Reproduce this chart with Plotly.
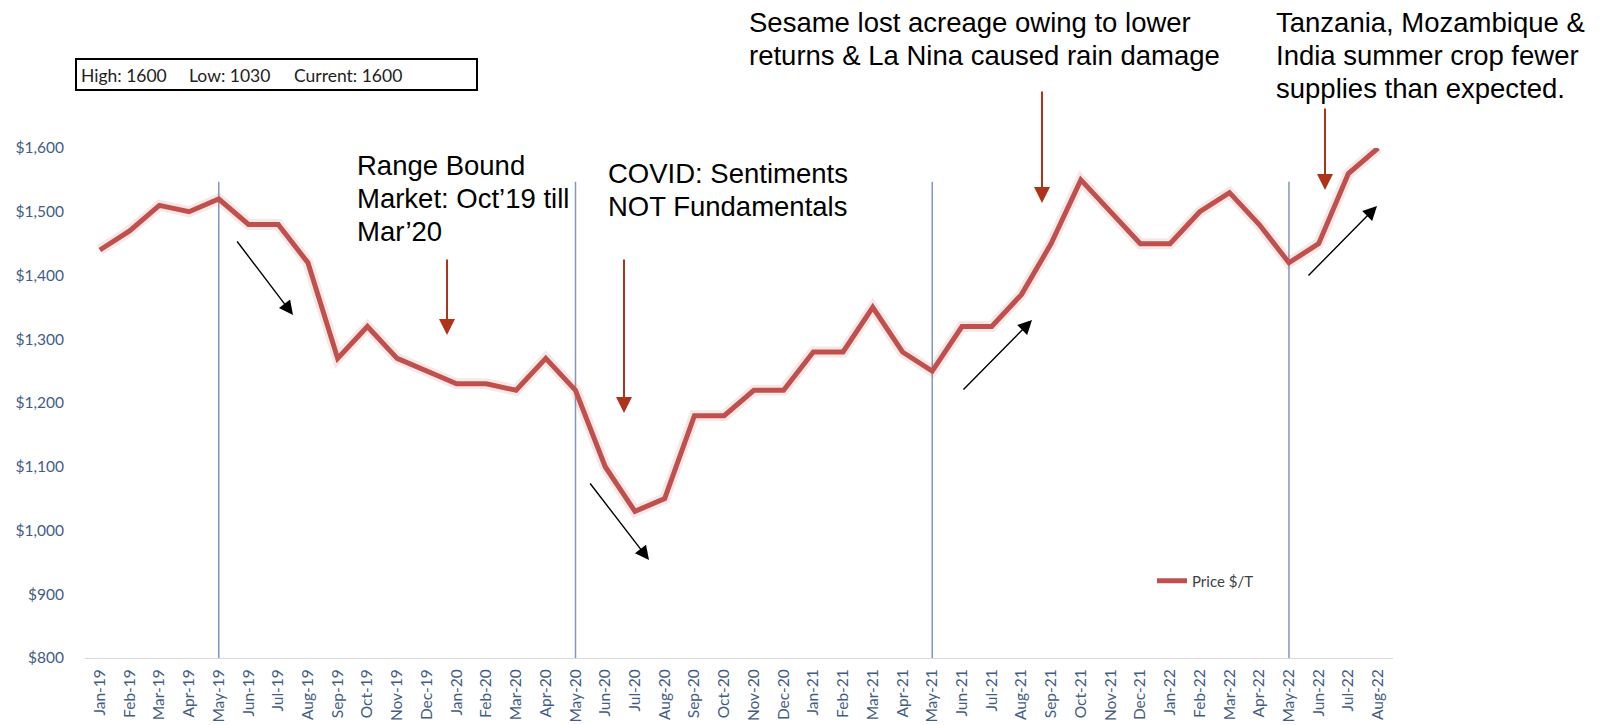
import plotly.graph_objects as go

months = ["Jan-19", "Feb-19", "Mar-19", "Apr-19", "May-19", "Jun-19", "Jul-19", "Aug-19",
          "Sep-19", "Oct-19", "Nov-19", "Dec-19", "Jan-20", "Feb-20", "Mar-20", "Apr-20",
          "May-20", "Jun-20", "Jul-20", "Aug-20", "Sep-20", "Oct-20", "Nov-20", "Dec-20",
          "Jan-21", "Feb-21", "Mar-21", "Apr-21", "May-21", "Jun-21", "Jul-21", "Aug-21",
          "Sep-21", "Oct-21", "Nov-21", "Dec-21", "Jan-22", "Feb-22", "Mar-22", "Apr-22",
          "May-22", "Jun-22", "Jul-22", "Aug-22"]
price = [1440, 1470, 1510, 1500, 1520, 1480, 1480, 1420,
         1270, 1320, 1270, 1250, 1230, 1230, 1220, 1270,
         1220, 1100, 1030, 1050, 1180, 1180, 1220, 1220,
         1280, 1280, 1350, 1280, 1250, 1320, 1320, 1370,
         1450, 1550, 1500, 1450, 1450, 1500, 1530, 1480,
         1420, 1450, 1560, 1600]
series_name = "Price $/T"
marker_months = ["May-19", "May-20", "May-21", "May-22"]
marker_top = 1547
y_ticks = [800, 900, 1000, 1100, 1200, 1300, 1400, 1500, 1600]
summary_parts = ["High: 1600", "Low: 1030", "Current: 1600"]
notes = {
    "range": ["Range Bound", "Market: Oct\u201919 till", "Mar\u201920"],
    "covid": ["COVID: Sentiments", "NOT Fundamentals"],
    "sesame": ["Sesame lost acreage owing to lower", "returns & La Nina caused rain damage"],
    "tanz": ["Tanzania, Mozambique &", "India summer crop fewer", "supplies than expected."],
}

W, H = 1599, 725
L, R, T, B = 85, 206, 148, 67
PW, PH = W - L - R, H - T - B


def px(x):
    return (x - L) / PW


def py(y):
    return (H - B - y) / PH


LINE = "#C0504D"
TICK = "#435C86"

fig = go.Figure()
fig.add_trace(go.Scatter(x=months, y=price, mode="lines", showlegend=False, hoverinfo="skip",
                         line=dict(color="rgba(192,80,77,0.13)", width=11)))
fig.add_trace(go.Scatter(x=months, y=price, mode="lines", name=series_name,
                         line=dict(color=LINE, width=5)))

shapes = []
for m in marker_months:
    i = months.index(m)
    shapes.append(dict(type="line", xref="x", yref="y", x0=i, x1=i, y0=800, y1=marker_top,
                       line=dict(color="#8297BC", width=1.5), layer="below"))
# summary box
shapes.append(dict(type="rect", xref="paper", yref="paper", x0=px(76), x1=px(477), y0=py(90), y1=py(59),
                   line=dict(color="black", width=2), fillcolor="rgba(0,0,0,0)"))

ann = []
for part, xs in zip(summary_parts, [79, 187, 292]):
    ann.append(dict(xref="paper", yref="paper", x=px(xs), y=py(75), xanchor="left", yanchor="middle",
                    text=part, showarrow=False, font=dict(family="Lato", size=17.5, color="#222222")))

TXT = dict(family="Liberation Sans, Arial", size=27.5, color="black")


def block(lines, x0, y0, dy=33.3):
    for k, s in enumerate(lines):
        ann.append(dict(xref="paper", yref="paper", x=px(x0), y=py(y0 + k * dy), xanchor="left",
                        yanchor="middle", text=s, showarrow=False, font=TXT))


block(notes["range"], 355, 165)
block(notes["covid"], 606, 173)
block(notes["sesame"], 747, 22)
block(notes["tanz"], 1274, 22)


def arrow(tipx, tipy, tailx, taily, color, width, size):
    ann.append(dict(xref="paper", yref="paper", x=px(tipx), y=py(tipy), ax=tailx - tipx, ay=taily - tipy,
                    axref="pixel", ayref="pixel", text="", showarrow=True, arrowhead=2,
                    arrowsize=size, arrowwidth=width, arrowcolor=color, standoff=0, startstandoff=0))


RED = "#AE3419"
arrow(447, 335, 447, 258, RED, 2, 1.6)
arrow(624, 413, 624, 258, RED, 2, 1.6)
arrow(1042, 203, 1042, 90, RED, 2, 1.6)
arrow(1325, 190, 1325, 107, RED, 2, 1.6)
arrow(293, 315, 236, 240, "black", 1.4, 2.0)
arrow(649, 560, 589, 482, "black", 1.4, 2.0)
arrow(1032, 320, 962, 391, "black", 1.4, 2.0)
arrow(1377, 206, 1307, 277, "black", 1.4, 2.0)

fig.update_layout(
    width=W, height=H,
    margin=dict(l=L, r=R, t=T, b=B, pad=0, autoexpand=False),
    paper_bgcolor="white", plot_bgcolor="white",
    shapes=shapes, annotations=ann,
    showlegend=True,
    legend=dict(x=px(1152), y=py(581), xanchor="left", yanchor="middle", bgcolor="rgba(0,0,0,0)",
                font=dict(family="Lato", size=15, color="#404040")),
    xaxis=dict(type="category", categoryorder="array", categoryarray=months, range=[-0.5, len(months) - 0.5],
               showgrid=False, zeroline=False, showline=True, linecolor="#D9D9D9", linewidth=1,
               ticks="", tickangle=-90, tickfont=dict(family="Lato", size=15.5, color=TICK),
               ticklabelstandoff=4, automargin=False),
    yaxis=dict(range=[800, 1600], tickvals=y_ticks, tickformat="$,d", showgrid=False, zeroline=False,
               showline=False, ticks="", tickfont=dict(family="Lato", size=15.5, color=TICK),
               ticklabelstandoff=20, automargin=False),
)

fig.write_html("out.html")
